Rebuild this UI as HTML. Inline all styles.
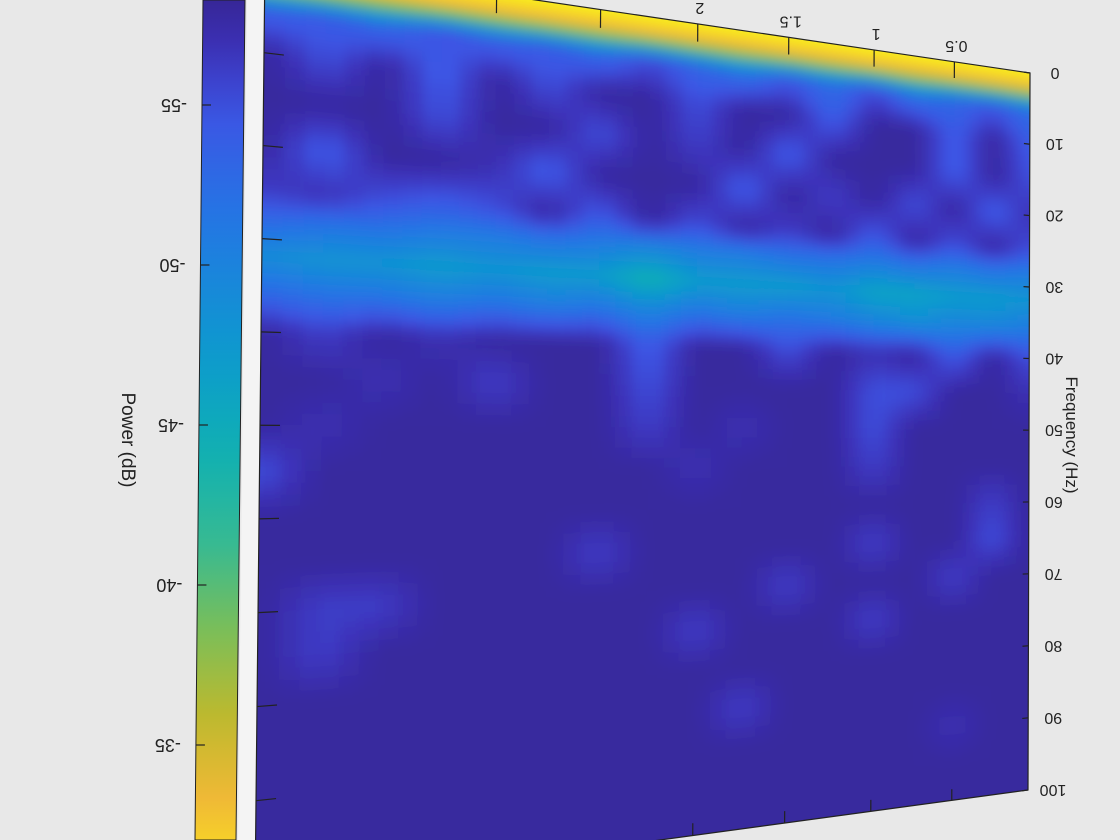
<!DOCTYPE html>
<html><head><meta charset="utf-8"><style>
html,body{margin:0;padding:0;background:#e8e8e8;overflow:hidden;width:1120px;height:840px;}
svg{display:block;font-family:"Liberation Sans",sans-serif;overflow:hidden;}
</style></head><body>
<svg id="fig" width="1120" height="840" viewBox="0 0 1120 840" xmlns="http://www.w3.org/2000/svg">
<defs>
<filter id="blur" x="-5%" y="-5%" width="110%" height="110%"><feGaussianBlur stdDeviation="6"/></filter>
<clipPath id="plotclip"><path id="clipquad" d=""/></clipPath>
<linearGradient id="cbgrad" gradientUnits="userSpaceOnUse" x1="0" y1="-2" x2="0" y2="840"></linearGradient>
</defs>
<rect width="1120" height="840" fill="#e8e8e8"/>
<polygon points="247,0 266,0 256,840 238,840" fill="#f4f4f4"/>
<polygon points="203,0 245,0 236,840 195,840" fill="url(#cbgrad)" stroke="#222" stroke-width="1"/>
<g id="cbticks"></g>
<text transform="translate(122,440) rotate(90)" text-anchor="middle" font-size="19" fill="#222">Power (dB)</text>
<g clip-path="url(#plotclip)">
<g id="cells" filter="url(#blur)"></g>
</g>
<path id="frame" d="" fill="none" stroke="#222" stroke-width="1.2"/>
<g id="axes"></g>
<text transform="translate(1066,435) rotate(90)" text-anchor="middle" font-size="17" fill="#222">Frequency (Hz)</text>
</svg>
<script>
const timeCols = [0,0.25,0.5,0.75,1,1.25,1.5,1.75,2,2.25,2.5,2.75,3,3.25,3.5,3.75,4];
const freqRows = [0,2.5,5,10,15,20,25,28,32,36,40,45,50,55,60,65,70,75,80,85,90,95,100];
const timeTicks = [0.5,1,1.5,2,2.5,3,3.5];
const timeTickLabels = ["0.5","1","1.5","2","2.5","3","3.5"];
const freqTicks = [0,10,20,30,40,50,60,70,80,90,100];
const cbTicks = [-55,-50,-45,-40,-35];
const power = [
[-30,-30,-30,-30,-30,-30,-30,-30,-30,-30,-30,-30,-30,-30,-30,-30,-30],
[-34,-34,-34,-34,-34,-34,-34,-34,-34,-34,-34,-34,-34,-34,-34,-34,-34],
[-52,-54,-53,-51,-55,-52,-54,-51,-53,-55,-52,-54,-53,-55,-52,-54,-53],
[-54,-58,-54,-58,-58,-54,-58,-58,-55,-58,-58,-55,-58,-54,-58,-55,-58],
[-55,-58,-54,-58,-58,-58,-54,-58,-56,-58,-55,-58,-58,-55,-58,-58,-58],
[-57,-54,-58,-55,-58,-56,-58,-54,-58,-58,-58,-54,-57,-58,-58,-54,-58],
[-55,-58,-55,-58,-54,-58,-56,-58,-55,-58,-54,-58,-55,-54,-55,-57,-56],
[-51,-52,-51,-52,-51,-52,-52,-51,-51,-50,-51,-52,-51,-51,-52,-52,-53],
[-48,-47,-47,-46,-46,-48,-47,-47,-47,-44,-47,-47,-48,-47,-48,-48,-49],
[-51,-50,-50,-49,-50,-51,-52,-51,-52,-50,-52,-51,-52,-51,-52,-52,-53],
[-55,-58,-54,-58,-57,-58,-55,-58,-58,-54,-58,-58,-58,-57,-58,-56,-58],
[-57,-58,-58,-55,-55,-58,-58,-58,-58,-55,-58,-58,-56,-58,-57,-58,-58],
[-58,-58,-58,-58,-55,-58,-58,-57,-58,-56,-58,-58,-58,-58,-58,-57,-58],
[-58,-58,-58,-58,-56,-58,-58,-58,-57,-58,-58,-58,-58,-58,-58,-58,-55],
[-58,-56,-58,-58,-58,-58,-58,-58,-58,-58,-58,-58,-58,-58,-58,-58,-58],
[-58,-55,-58,-58,-56,-58,-58,-58,-58,-58,-56,-58,-58,-58,-58,-58,-58],
[-58,-58,-56,-58,-58,-58,-56,-58,-58,-58,-58,-58,-58,-58,-56,-56,-58],
[-58,-58,-58,-58,-56,-58,-58,-58,-56,-58,-58,-58,-58,-58,-58,-56,-58],
[-58,-58,-58,-58,-58,-58,-58,-58,-58,-58,-58,-58,-58,-58,-58,-58,-58],
[-58,-58,-58,-58,-58,-58,-58,-56,-58,-58,-58,-58,-58,-58,-58,-58,-58],
[-58,-58,-57,-58,-58,-58,-58,-58,-58,-58,-58,-58,-58,-58,-58,-58,-58],
[-58,-58,-58,-58,-58,-58,-58,-58,-58,-58,-58,-58,-58,-58,-58,-58,-58],
[-58,-58,-58,-58,-58,-58,-58,-58,-58,-58,-58,-58,-58,-58,-58,-58,-58]
];
const NS='http://www.w3.org/2000/svg';
const TMAX=4, FMAX=100, CMIN=-58.4, CMAX=-30;
const P0=[1030,73],P1=[265,-40],P2=[255,895],P3=[1028,790];
const dx1=P1[0]-P2[0],dx2=P3[0]-P2[0],dx3=P0[0]-P1[0]+P2[0]-P3[0];
const dy1=P1[1]-P2[1],dy2=P3[1]-P2[1],dy3=P0[1]-P1[1]+P2[1]-P3[1];
const den=dx1*dy2-dx2*dy1;
const G=(dx3*dy2-dx2*dy3)/den, H=(dx1*dy3-dx3*dy1)/den;
const A=P1[0]-P0[0]+G*P1[0], B=P3[0]-P0[0]+H*P3[0], C=P0[0];
const D=P1[1]-P0[1]+G*P1[1], E=P3[1]-P0[1]+H*P3[1], F=P0[1];
function proj(t,f){const u=t/TMAX,v=f/FMAX;const w=G*u+H*v+1;return [(A*u+B*v+C)/w,(D*u+E*v+F)/w];}
const stops=[[0,[54,38,150]],[0.06,[60,50,185]],[0.13,[60,85,228]],[0.25,[35,120,228]],[0.4,[12,155,205]],[0.5,[15,175,180]],[0.6,[50,186,150]],[0.7,[120,190,90]],[0.8,[190,185,45]],[0.9,[245,185,55]],[1,[249,245,20]]];
function cmap(val){let x=(val-CMIN)/(CMAX-CMIN);x=Math.max(0,Math.min(1,x));
for(let i=1;i<stops.length;i++){if(x<=stops[i][0]){const a=stops[i-1],b=stops[i];const k=(x-a[0])/(b[0]-a[0]);
return 'rgb('+[0,1,2].map(j=>Math.round(a[1][j]+(b[1][j]-a[1][j])*k)).join(',')+')';}}return 'rgb(249,245,20)';}
function pts(arr){return arr.map(p=>p[0].toFixed(1)+','+p[1].toFixed(1)).join(' ');}
function idx(arr,x){if(x<=arr[0])return [0,0];const n=arr.length;if(x>=arr[n-1])return [n-2,1];
 for(let i=0;i<n-1;i++){if(x<=arr[i+1])return [i,(x-arr[i])/(arr[i+1]-arr[i])];}return [n-2,1];}
function sample(t,f){
 const [c0,kt]=idx(timeCols,t),[r0,kf]=idx(freqRows,f);
 const a=power[r0][c0]*(1-kt)+power[r0][c0+1]*kt;const b=power[r0+1][c0]*(1-kt)+power[r0+1][c0+1]*kt;
 return a*(1-kf)+b*kf;}
const q=[proj(0,0),proj(TMAX,0),proj(TMAX,FMAX),proj(0,FMAX)];
document.getElementById('clipquad').setAttribute('d','M'+q.map(p=>p[0]+','+p[1]).join(' L')+' Z');
document.getElementById('frame').setAttribute('d','M'+q.map(p=>p[0]+','+p[1]).join(' L')+' Z');
const cells=document.getElementById('cells');
const dt=0.25/3, df=5/4;
for(let f=-3*df; f<FMAX+3*df; f+=df){for(let t=-3*dt; t<TMAX+3*dt; t+=dt){
 const cs=[proj(t,f),proj(t+dt,f),proj(t+dt,f+df),proj(t,f+df)];
 if(cs.every(p=>p[1]>870)||cs.every(p=>p[1]<-30))continue;
 const v=sample(t+dt/2,f+df/2);
 const p=document.createElementNS(NS,'polygon');
 p.setAttribute('points',pts(cs.map(p=>[p[0],Math.max(-30,Math.min(870,p[1]))])));
 p.setAttribute('fill',cmap(v));
 p.setAttribute('stroke',cmap(v));
 p.setAttribute('stroke-width','1');
 
 
 cells.appendChild(p);
}}
const axes=document.getElementById('axes');
function line(a,b,name){const l=document.createElementNS(NS,'line');l.setAttribute('x1',a[0]);l.setAttribute('y1',a[1]);l.setAttribute('x2',b[0]);l.setAttribute('y2',b[1]);l.setAttribute('stroke','#222');l.setAttribute('stroke-width','1.2');


axes.appendChild(l);}
function label(x,y,txt,rot,size,anchor,name){const t=document.createElementNS(NS,'text');t.setAttribute('transform','translate('+x+','+y+') rotate('+rot+')');t.setAttribute('text-anchor',anchor);t.setAttribute('font-size',size);t.setAttribute('fill','#222');t.textContent=txt;


axes.appendChild(t);}
timeTicks.forEach((tv,i)=>{const a=proj(tv,0),b=proj(tv,2.2);line(a,b,'x-tick');
 const c=proj(tv,FMAX),d=proj(tv,FMAX-1.5);if(c[1]<838)line(c,d,'x-tick-bottom');
 if(a[1]-21>0)label(a[0]+2,a[1]-21,timeTickLabels[i],180,16,'middle','x-tick-label');});
freqTicks.forEach(fv=>{const a=proj(0,fv),b=proj(0.04,fv);line(a,b,'y-tick');
 const c=proj(TMAX,fv),d=proj(TMAX-0.08,fv);if(c[1]>0&&c[1]<838)line(c,d,'y-tick-left');
 label(a[0]+25,a[1]-5,String(fv),180,16,'middle','y-tick-label');});
const grad=document.getElementById('cbgrad');
for(let i=0;i<=20;i++){const s=document.createElementNS(NS,'stop');const v=CMIN+(-31.8-CMIN)*i/20;
 s.setAttribute('offset',i/20);s.setAttribute('stop-color',cmap(v));grad.appendChild(s);}
const cbt=document.getElementById('cbticks');
function cbY(v){return 105+(v+55)*32;}
cbTicks.forEach(v=>{const y=cbY(v);const xl=203-8*y/840;
 const l=document.createElementNS(NS,'line');l.setAttribute('x1',xl);l.setAttribute('x2',xl+9);l.setAttribute('y1',y);l.setAttribute('y2',y);l.setAttribute('stroke','#222');l.setAttribute('stroke-width','1.2');
 
 
 cbt.appendChild(l);
 const t=document.createElementNS(NS,'text');t.setAttribute('transform','translate('+(xl-28)+','+(y-6)+') rotate(180)');t.setAttribute('text-anchor','middle');t.setAttribute('font-size','18');t.setAttribute('fill','#222');t.textContent=String(v);
 
 
 cbt.appendChild(t);});
</script>
</body></html>
